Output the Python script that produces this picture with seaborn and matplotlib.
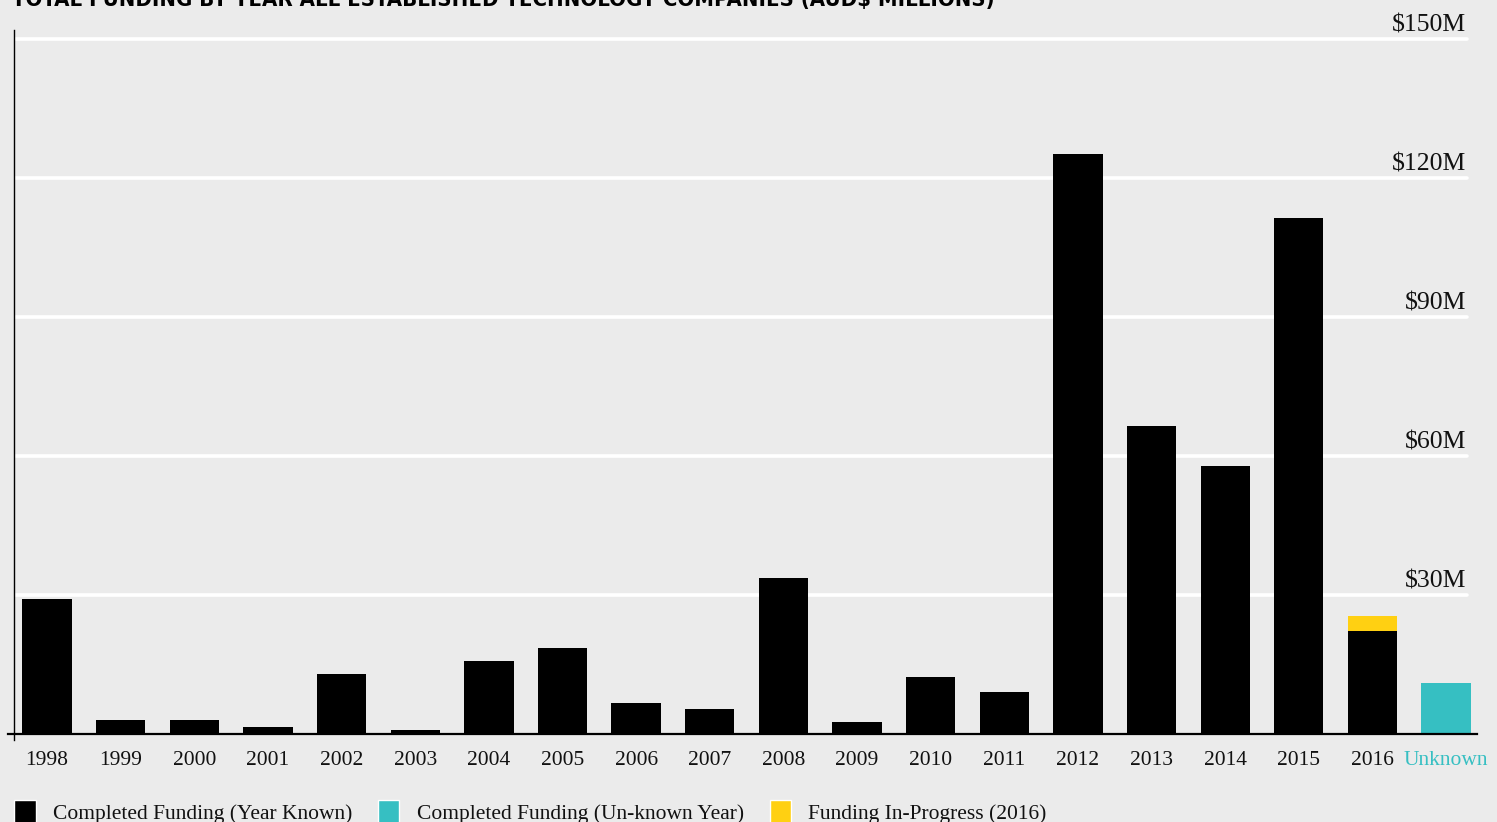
import matplotlib
matplotlib.use("Agg")
import matplotlib.pyplot as plt
from matplotlib.patches import Patch
import seaborn as sns
import pandas as pd

# ---- data (AUD$ millions) ----
categories = ["1998", "1999", "2000", "2001", "2002", "2003", "2004", "2005", "2006",
              "2007", "2008", "2009", "2010", "2011", "2012", "2013", "2014", "2015",
              "2016", "Unknown"]
completed = [29.1, 3.0, 3.0, 1.5, 12.9, 0.9, 15.8, 18.6, 6.7, 5.4, 33.7, 2.6,
             12.3, 9.1, 125.2, 66.5, 57.8, 111.4, 22.2, 11.0]
series = ["Completed Funding (Year Known)"] * 19 + ["Completed Funding (Un-known Year)"]
in_progress_year = ["2016"]
in_progress = [3.3]
y_ticks = [30, 60, 90, 120, 150]
y_tick_labels = ["$30M", "$60M", "$90M", "$120M", "$150M"]
title = "TOTAL FUNDING BY YEAR ALL ESTABLISHED TECHNOLOGY COMPANIES (AUD$ MILLIONS)"
legend_labels = ["Completed Funding (Year Known)", "Completed Funding (Un-known Year)",
                 "Funding In-Progress (2016)"]

BG = "#ebebeb"
BLACK = "#000000"
TEAL = "#36bfc2"
YELLOW = "#ffd012"
SERIF = ["Liberation Serif", "DejaVu Serif"]

sns.set_theme(style="white")
plt.rcParams["font.family"] = SERIF

fig = plt.figure(figsize=(14.97, 8.22), dpi=100, facecolor=BG)
ax = fig.add_axes([14 / 1497, 1 - 734 / 822, (1477 - 14) / 1497, (734 - 30) / 822])
ax.set_facecolor(BG)

df = pd.DataFrame({"category": categories, "value": completed, "series": series})
comp_2016 = completed[categories.index("2016")]
df_prog = pd.DataFrame({"category": in_progress_year,
                        "value": [comp_2016 + v for v in in_progress]})

# gridlines (white) behind bars
for yv in y_ticks:
    ax.axhline(yv, xmin=0, xmax=(1467 - 14) / (1477 - 14), color="white", lw=2.6, zorder=0)

sns.barplot(data=df_prog, x="category", y="value", order=categories, color=YELLOW,
            saturation=1, width=0.67, ax=ax, zorder=2, linewidth=0)
sns.barplot(data=df, x="category", y="value", hue="series", order=categories,
            palette={series[0]: BLACK, series[-1]: TEAL}, dodge=False, saturation=1,
            width=0.67, ax=ax, zorder=3, linewidth=0, legend=False)

ax.set_xlim(-0.45, 19.42)
ax.set_ylim(0, 152)
ax.set_xlabel("")
ax.set_ylabel("")
ax.set_yticks([])
ax.tick_params(axis="x", length=0, pad=12, labelsize=15.5, labelcolor="#111111")
for lbl in ax.get_xticklabels():
    if lbl.get_text() == "Unknown":
        lbl.set_color(TEAL)

for s in ["top", "right"]:
    ax.spines[s].set_visible(False)
ax.spines["bottom"].set_color(BLACK)
ax.spines["bottom"].set_linewidth(1.6)
ax.spines["bottom"].set_bounds(-0.53, 19.42)
ax.spines["left"].set_color(BLACK)
ax.spines["left"].set_linewidth(1.0)
ax.spines["left"].set_bounds(-1.3, 152)
ax.spines["bottom"].set_zorder(5)

# y labels on the right, above gridlines
for yv, lab in zip(y_ticks, y_tick_labels):
    ax.text((1466 - 14) / (1477 - 14), yv + 0.6, lab, transform=ax.get_yaxis_transform(),
            ha="right", va="bottom", fontsize=18.5, color="#111111")

# title: condensed bold sans, sized to match the reference width
title_txt = fig.text(12 / 1497, 1 - 6 / 822, title, ha="left", va="baseline",
                     fontsize=21, fontweight="bold", color=BLACK,
                     family=["DejaVu Sans"], fontstretch="condensed")
fig.canvas.draw()
w = title_txt.get_window_extent().width
if w > 0:
    title_txt.set_fontsize(21 * 978.0 / w)

handles = [Patch(facecolor=BLACK), Patch(facecolor=TEAL), Patch(facecolor=YELLOW)]
fig.legend(handles, legend_labels, loc="center left", bbox_to_anchor=(14 / 1497, 1 - 812 / 822),
           ncol=3, frameon=False, fontsize=15.5, handlelength=1.0, handleheight=1.3,
           handletextpad=0.8, columnspacing=1.2, borderpad=0, borderaxespad=0,
           labelcolor="#111111")

fig.savefig("out.png", dpi=100, facecolor=BG)
